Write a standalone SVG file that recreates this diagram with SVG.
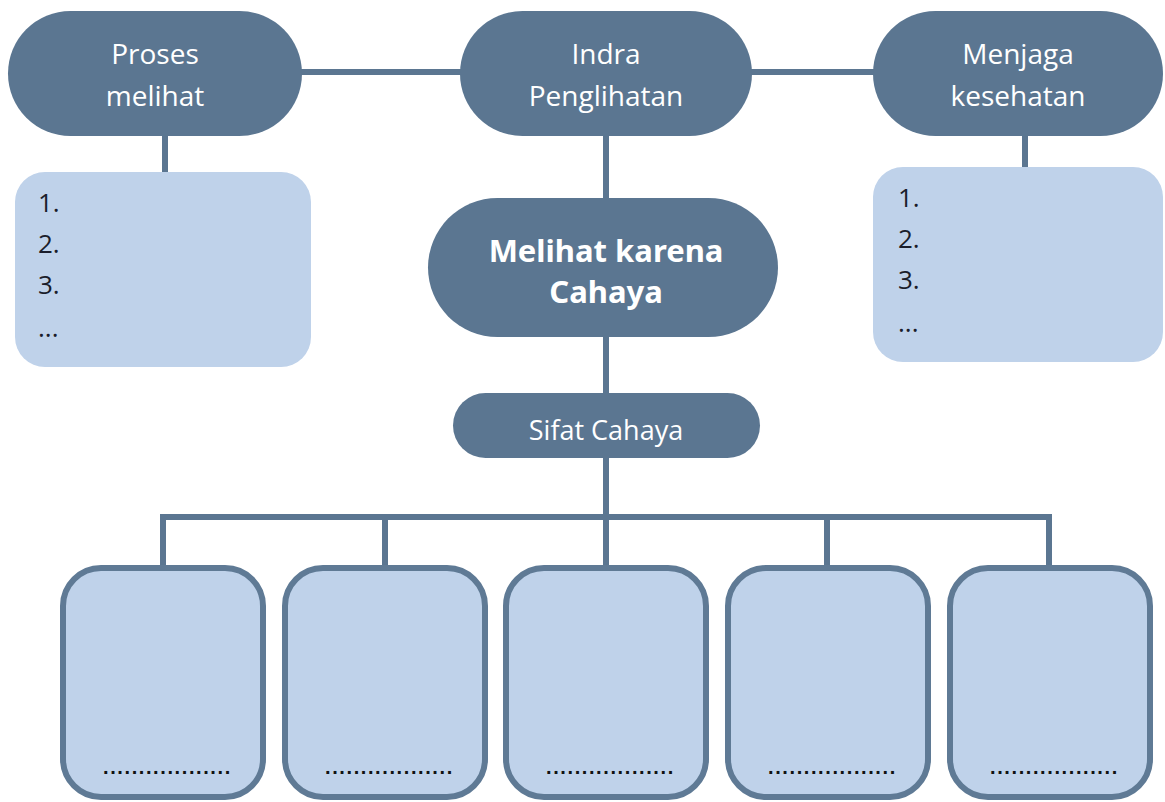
<svg xmlns="http://www.w3.org/2000/svg" width="1165" height="802" viewBox="0 0 1165 802">
<style>
.pill{fill:#5b7691}
.light{fill:#bfd2ea}
.box{fill:#bfd2ea;stroke:#5f7a95;stroke-width:6}
.ln{stroke:#5b7691;stroke-width:6;fill:none}
.wt{fill:#ffffff;font-family:"Open Sans",sans-serif;font-size:28px;text-anchor:middle}
.bt{fill:#ffffff;font-family:"Noto Sans",sans-serif;font-weight:bold;font-size:31px;text-anchor:middle}
.lst{fill:#1a1d2b;font-family:"Open Sans",sans-serif;font-size:26px}
.dots{fill:#111111;font-family:"Liberation Sans",sans-serif;font-weight:bold;font-size:20px;letter-spacing:1.6px}
</style>
<rect width="1165" height="802" fill="#ffffff"/>
<g id="connectors">
<line class="ln" x1="300" y1="72" x2="462" y2="72"/>
<line class="ln" x1="750" y1="72" x2="876" y2="72"/>
<line class="ln" x1="165" y1="134" x2="165" y2="174"/>
<line class="ln" x1="1025" y1="134" x2="1025" y2="169"/>
<line class="ln" x1="606" y1="134" x2="606" y2="200"/>
<line class="ln" x1="606" y1="335" x2="606" y2="395"/>
<line class="ln" x1="606" y1="456" x2="606" y2="517"/>
<polyline class="ln" points="163,568 163,517 1049,517 1049,568"/>
<line class="ln" x1="385" y1="517" x2="385" y2="568"/>
<line class="ln" x1="606" y1="517" x2="606" y2="568"/>
<line class="ln" x1="827" y1="517" x2="827" y2="568"/>
</g>
<g id="proses">
<rect class="pill" x="8" y="11" width="294" height="125" rx="62.5"/>
<text class="wt" x="155" y="64">Proses</text>
<text class="wt" x="155" y="106">melihat</text>
</g>
<g id="indra">
<rect class="pill" x="460" y="11" width="292" height="125" rx="62.5"/>
<text class="wt" x="606" y="64">Indra</text>
<text class="wt" x="606" y="106">Penglihatan</text>
</g>
<g id="menjaga">
<rect class="pill" x="873" y="11" width="290" height="125" rx="62.5"/>
<text class="wt" x="1018" y="64">Menjaga</text>
<text class="wt" x="1018" y="106">kesehatan</text>
</g>
<g id="list-left">
<rect class="light" x="15" y="172" width="296" height="195" rx="30"/>
<text class="lst" x="38" y="212">1.</text>
<text class="lst" x="38" y="253">2.</text>
<text class="lst" x="38" y="294">3.</text>
<text class="lst" x="38" y="337">...</text>
</g>
<g id="list-right">
<rect class="light" x="873" y="167" width="290" height="195" rx="30"/>
<text class="lst" x="898" y="207">1.</text>
<text class="lst" x="898" y="248">2.</text>
<text class="lst" x="898" y="289">3.</text>
<text class="lst" x="898" y="332">...</text>
</g>
<g id="melihat">
<rect class="pill" x="428" y="198" width="350" height="139" rx="69.5"/>
<text class="bt" x="606" y="262">Melihat karena</text>
<text class="bt" x="606" y="303">Cahaya</text>
</g>
<g id="sifat">
<rect class="pill" x="453" y="393" width="307" height="65" rx="32.5"/>
<text class="wt" x="606" y="440" style="font-size:27px">Sifat Cahaya</text>
</g>
<g id="box1">
<rect class="box" x="63" y="568" width="200" height="229" rx="38"/>
<text class="dots" x="103" y="774">..................</text>
</g>
<g id="box2">
<rect class="box" x="285" y="568" width="200" height="229" rx="38"/>
<text class="dots" x="325" y="774">..................</text>
</g>
<g id="box3">
<rect class="box" x="506" y="568" width="200" height="229" rx="38"/>
<text class="dots" x="546" y="774">..................</text>
</g>
<g id="box4">
<rect class="box" x="728" y="568" width="200" height="229" rx="38"/>
<text class="dots" x="768" y="774">..................</text>
</g>
<g id="box5">
<rect class="box" x="950" y="568" width="200" height="229" rx="38"/>
<text class="dots" x="990" y="774">..................</text>
</g>
</svg>
